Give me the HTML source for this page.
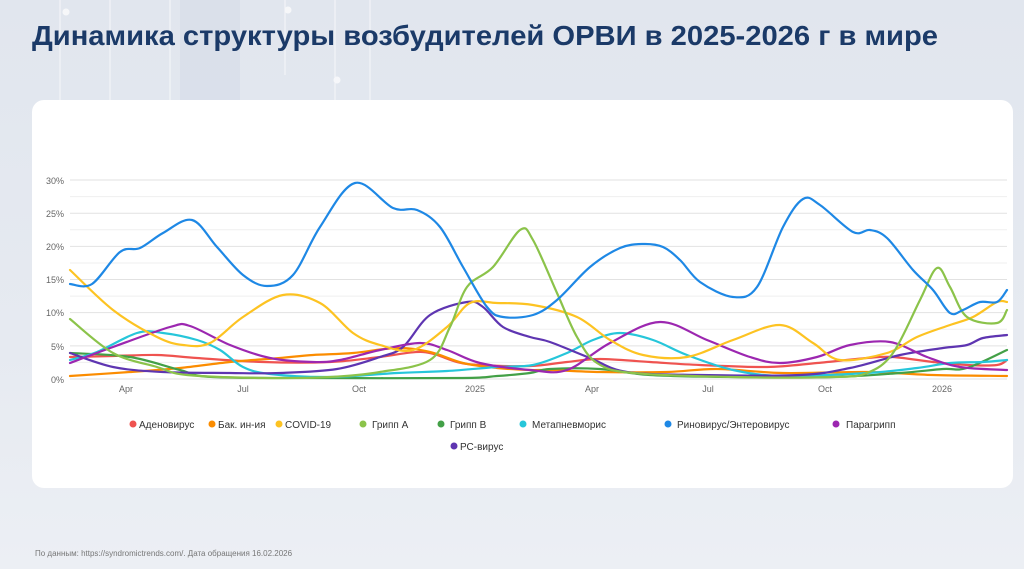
<!DOCTYPE html>
<html><head><meta charset="utf-8">
<style>
html,body{margin:0;padding:0;}
body{width:1024px;height:569px;overflow:hidden;background:linear-gradient(180deg,#e1e6ee 0%,#e6eaf1 60%,#eceff4 100%);font-family:"Liberation Sans",sans-serif;position:relative;}
.card{position:absolute;left:32px;top:100px;width:981px;height:388px;background:#fff;border-radius:12px;}
svg{position:absolute;left:0;top:0;}
</style></head><body>
<svg width="1024" height="569" style="z-index:0">
<g stroke="#ffffff" stroke-width="1" opacity="0.7" fill="none">
<line x1="60" y1="0" x2="60" y2="100"/><line x1="110" y1="0" x2="110" y2="100"/><line x1="170" y1="0" x2="170" y2="100"/>
<line x1="285" y1="0" x2="285" y2="75"/><line x1="335" y1="0" x2="335" y2="100"/><line x1="370" y1="0" x2="370" y2="100"/>
<circle cx="66" cy="12" r="3" fill="#fff"/><circle cx="337" cy="80" r="3" fill="#fff"/><circle cx="288" cy="10" r="3" fill="#fff"/>
</g>
<rect x="180" y="0" width="60" height="100" fill="#d5dce7" opacity="0.6"/>
</svg>
<div class="card"></div>
<svg width="1024" height="569" id="c" style="z-index:2">
<text x="32" y="45" font-family="'Liberation Sans Narrow','Liberation Sans',sans-serif" font-weight="bold" font-size="28" fill="#1b3a68" textLength="906" lengthAdjust="spacingAndGlyphs">Динамика структуры возбудителей ОРВИ в 2025-2026 г в мире</text>
<g id="grid"></g>
<g font-size="9" fill="#666" text-anchor="end">
<text x="64" y="383">0%</text><text x="64" y="350">5%</text><text x="64" y="316">10%</text><text x="64" y="283">15%</text><text x="64" y="250">20%</text><text x="64" y="217">25%</text><text x="64" y="184">30%</text>
</g>
<g font-size="9" fill="#666" text-anchor="middle">
<text x="126" y="392">Apr</text><text x="243" y="392">Jul</text><text x="359" y="392">Oct</text><text x="475" y="392">2025</text>
<text x="592" y="392">Apr</text><text x="708" y="392">Jul</text><text x="825" y="392">Oct</text><text x="942" y="392">2026</text>
</g>
<g id="lines" fill="none" stroke-width="2.2" stroke-linejoin="round" stroke-linecap="round"></g>
<g font-size="10" fill="#333">
<circle cx="133" cy="424" r="3.5" fill="#ef5350"/><text x="139" y="428">Аденовирус</text>
<circle cx="212" cy="424" r="3.5" fill="#fb8c00"/><text x="218" y="428">Бак. ин-ия</text>
<circle cx="279" cy="424" r="3.5" fill="#fdc322"/><text x="285" y="428">COVID-19</text>
<circle cx="363" cy="424" r="3.5" fill="#8bc34a"/><text x="372" y="428">Грипп А</text>
<circle cx="441" cy="424" r="3.5" fill="#43a047"/><text x="450" y="428">Грипп В</text>
<circle cx="523" cy="424" r="3.5" fill="#26c6da"/><text x="532" y="428">Метапневморис</text>
<circle cx="668" cy="424" r="3.5" fill="#1e88e5"/><text x="677" y="428">Риновирус/Энтеровирус</text>
<circle cx="836" cy="424" r="3.5" fill="#9c27b0"/><text x="846" y="428">Парагрипп</text>
<circle cx="454" cy="446" r="3.5" fill="#5e35b1"/><text x="460" y="450">РС-вирус</text>
</g>
<text x="35" y="556" font-size="8" fill="#777">По данным: https://syndromictrends.com/. Дата обращения 16.02.2026</text>
</svg>
<script>
var g=document.getElementById('grid'),s='';
for(var i=0;i<=12;i++){var y=379-i*16.58;s+='<line x1="70" x2="1007" y1="'+y+'" y2="'+y+'" stroke="'+(i%2==0?'#e2e2e2':'#efefef')+'" stroke-width="1"/>';}
g.innerHTML=s;
var S={
'#ef5350':[[70,357],[113,356],[157,355],[197,358],[263,362],[330,362],[380,357],[423,352],[457,362],[480,365],[530,366],[567,362],[600,359],[650,362],[700,365],[767,367],[817,363],[867,358],[893,357],[933,362],[967,365],[997,365],[1007,360]],
'#fb8c00':[[70,376],[130,372],[180,368],[230,362],[280,358],[313,355],[353,353],[397,348],[430,352],[463,363],[497,368],[530,370],[550,370],[600,372],[667,372],[717,369],[783,373],[867,372],[933,375],[1007,376]],
'#43a047':[[70,353],[130,357],[180,370],[213,377],[330,378],[463,378],[497,376],[530,373],[550,369],[600,369],[650,375],[733,377],[833,377],[900,373],[943,369],[967,368],[1007,350]],
'#26c6da':[[70,360],[97,352],[137,333],[163,333],[197,340],[220,350],[243,367],[270,374],[330,377],[397,373],[447,371],[497,367],[533,365],[567,353],[593,340],[620,333],[653,340],[687,355],[733,370],[783,376],[867,373],[917,368],[950,363],[983,362],[1007,360]],
'#5e35b1':[[70,353],[113,367],[163,372],[230,373],[280,373],[337,369],[380,357],[403,347],[430,315],[467,302],[483,307],[503,327],[530,337],[550,342],[590,358],[627,372],[700,375],[800,375],[850,368],[900,355],[943,348],[967,345],[983,338],[1007,335]],
'#9c27b0':[[70,363],[113,347],[170,327],[190,326],[230,345],[270,358],[313,362],[340,360],[380,350],[420,343],[447,350],[480,363],[530,370],[567,370],[610,343],[660,322],[707,340],[750,357],[780,363],[817,357],[850,345],[890,342],[927,357],[960,367],[1007,370]],
'#fdc322':[[70,270],[113,310],[157,337],[183,345],[210,343],[243,317],[283,295],[320,303],[353,333],[380,345],[413,350],[447,327],[470,303],[497,303],[533,305],[577,317],[610,340],[643,355],[687,357],[733,340],[780,325],[813,343],[840,360],[887,353],[917,337],[950,325],[973,317],[997,302],[1007,302]],
'#8bc34a':[[70,319],[113,353],[157,367],[187,375],[263,378],[330,377],[380,372],[430,360],[450,327],[467,287],[493,267],[520,230],[533,240],[557,293],[577,337],[597,363],[633,373],[733,377],[833,377],[867,373],[893,353],[920,300],[937,268],[950,287],[967,317],[997,323],[1007,310]],
'#1e88e5':[[70,284],[92,284],[120,252],[140,248],[163,233],[192,220],[217,247],[243,275],[267,286],[293,275],[320,227],[355,183],[393,208],[417,210],[440,227],[463,267],[487,307],[503,317],[533,315],[557,300],[590,267],[620,248],[643,244],[663,247],[680,260],[700,282],[733,297],[757,287],[783,227],[803,199],[820,205],[853,232],[870,230],[887,238],[913,270],[933,290],[950,313],[963,310],[980,302],[997,302],[1007,290]]
};
function path(p){var d='M'+p[0][0]+','+p[0][1];for(var i=0;i<p.length-1;i++){var p0=p[i-1]||p[i],p1=p[i],p2=p[i+1],p3=p[i+2]||p2;
var c1x=p1[0]+(p2[0]-p0[0])/6,c1y=p1[1]+(p2[1]-p0[1])/6,c2x=p2[0]-(p3[0]-p1[0])/6,c2y=p2[1]-(p3[1]-p1[1])/6;
d+=' C'+c1x.toFixed(1)+','+c1y.toFixed(1)+' '+c2x.toFixed(1)+','+c2y.toFixed(1)+' '+p2[0]+','+p2[1];}return d;}
var h='';for(var k in S){h+='<path d="'+path(S[k])+'" stroke="'+k+'"/>';}
document.getElementById('lines').innerHTML=h;
</script>
</body></html>
